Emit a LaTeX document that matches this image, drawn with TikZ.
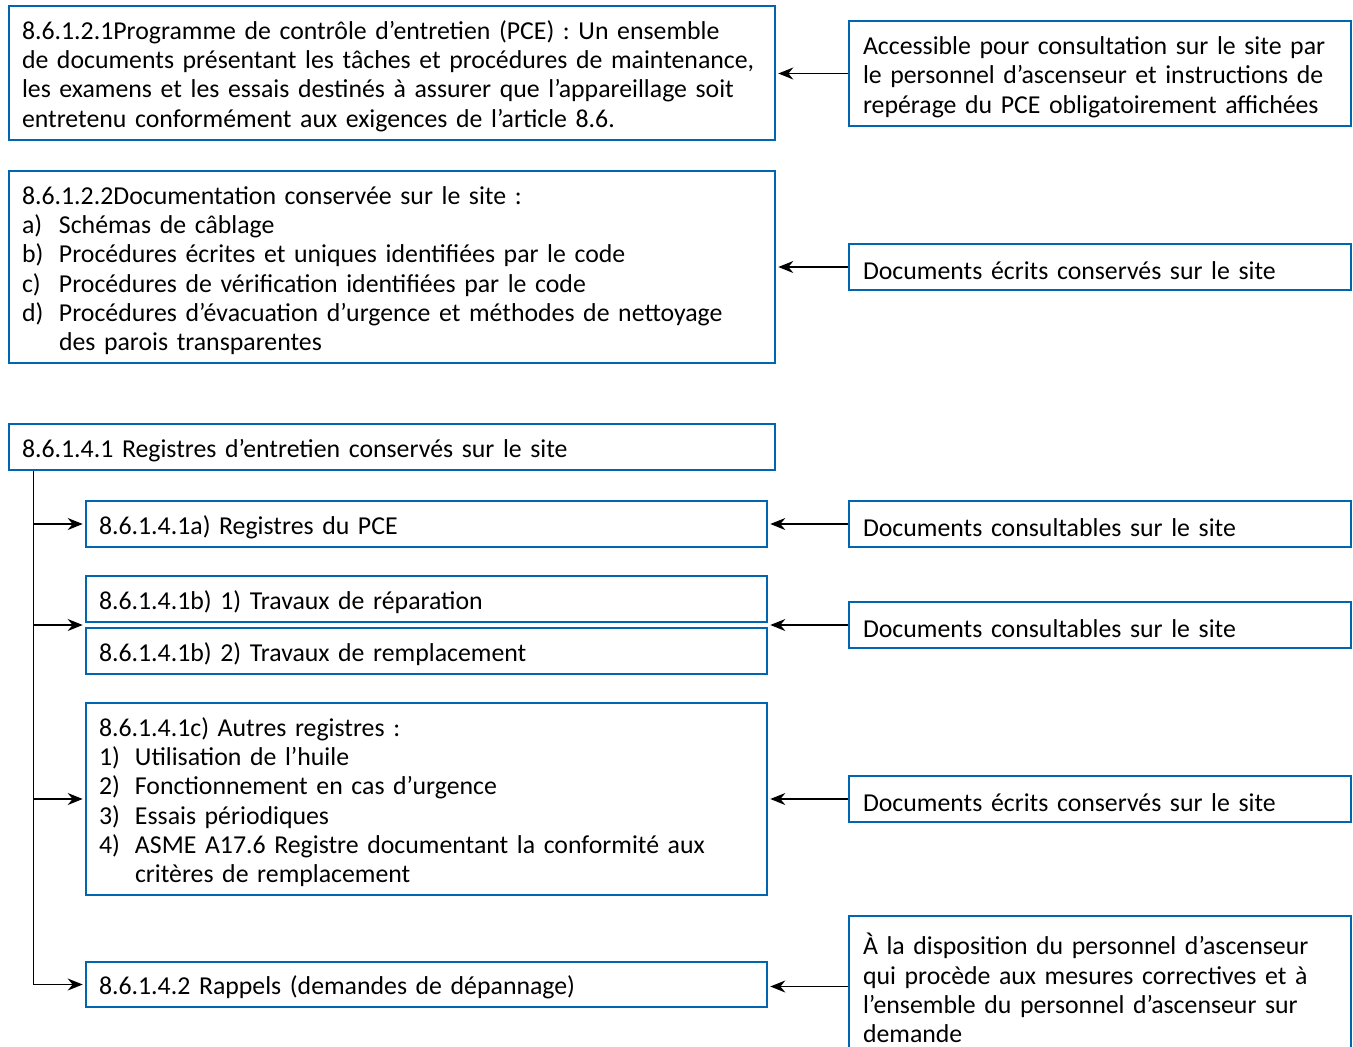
\documentclass[tikz,border=0pt]{standalone}
\usepackage{fontspec}
\setmainfont{Carlito}
\usetikzlibrary{arrows.meta}
\definecolor{boxblue}{RGB}{0,102,178}
\begin{document}
\begin{tikzpicture}[x=1pt,y=-1pt,
  box/.style={draw=boxblue, line width=2.6pt, rectangle, inner xsep=13pt, inner ysep=0pt,
    align=left, font=\fontsize{25.8}{29.3}\selectfont,
    execute at begin node={\rule{0pt}{25pt}}},
  wide/.style={box, minimum width=766pt, text width=740pt},
  sub/.style={box, minimum width=681pt, text width=655pt},
  side/.style={box, inner xsep=14pt, minimum width=502pt, text width=474pt},
  arr/.style={line width=1.5pt, -{Stealth[length=15pt,width=12pt]}, shorten >=2pt},
  trunkline/.style={line width=1.5pt}]
\useasboundingbox (0,0) rectangle (1353,1047);
\clip (0,0) rectangle (1353,1047);

\node[wide, minimum height=134pt] (b1) at (392,73)
 {8.6.1.2.1Programme de contrôle d’entretien (PCE) : Un ensemble\\
  de documents présentant les tâches et procédures de maintenance,\\
  les examens et les essais destinés à assurer que l’appareillage soit\\
  entretenu conformément aux exigences de l’article 8.6.};
\node[side, minimum height=105pt] (r1) at (1100,73.5)
 {Accessible pour consultation sur le site par\\
  le personnel d’ascenseur et instructions de\\
  repérage du PCE obligatoirement affichées};

\node[wide, minimum height=192pt] (b2) at (392,267)
 {8.6.1.2.2Documentation conservée sur le site :\\
  \makebox[37pt][l]{a)}Schémas de câblage\\
  \makebox[37pt][l]{b)}Procédures écrites et uniques identifiées par le code\\
  \makebox[37pt][l]{c)}Procédures de vérification identifiées par le code\\
  \makebox[37pt][l]{d)}Procédures d’évacuation d’urgence et méthodes de nettoyage\\
  \hspace*{37pt}des parois transparentes};
\node[side, minimum height=46pt] (r2) at (1100,267)
 {Documents écrits conservés sur le site};

\node[wide, minimum height=46pt] (b3) at (392,447)
 {8.6.1.4.1 Registres d’entretien conservés sur le site};

\node[sub, minimum height=46pt] (ba) at (426.5,524)
 {8.6.1.4.1a) Registres du PCE};
\node[side, minimum height=46pt] (ra) at (1100,524)
 {Documents consultables sur le site};

\node[sub, minimum height=46pt] (bb1) at (426.5,599)
 {8.6.1.4.1b) 1) Travaux de réparation};
\node[sub, minimum height=46pt] (bb2) at (426.5,651)
 {8.6.1.4.1b) 2) Travaux de remplacement};
\node[side, minimum height=46pt] (rb) at (1100,625)
 {Documents consultables sur le site};

\node[sub, minimum height=192pt] (bc) at (426.5,799)
 {8.6.1.4.1c) Autres registres :\\
  \makebox[36pt][l]{1)}Utilisation de l’huile\\
  \makebox[36pt][l]{2)}Fonctionnement en cas d’urgence\\
  \makebox[36pt][l]{3)}Essais périodiques\\
  \makebox[36pt][l]{4)}ASME A17.6 Registre documentant la conformité aux\\
  \hspace*{36pt}critères de remplacement};
\node[side, minimum height=46pt] (rc) at (1100,799)
 {Documents écrits conservés sur le site};

\node[sub, minimum height=45pt] (bd) at (426.5,984.5)
 {8.6.1.4.2 Rappels (demandes de dépannage)};
\node[side, minimum height=141pt] (rd) at (1100,986.5)
 {À la disposition du personnel d’ascenseur\\
  qui procède aux mesures correctives et à\\
  l’ensemble du personnel d’ascenseur sur\\
  demande};

% right-hand arrows
\draw[arr] (r1.west) -- (r1.west -| b1.east);
\draw[arr] (r2.west) -- (r2.west -| b2.east);
\draw[arr] (ra.west) -- (ra.west -| ba.east);
\draw[arr] (rb.west) -- (rb.west -| bb1.east);
\draw[arr] (rc.west) -- (rc.west -| bc.east);
\draw[arr] (rd.west) -- (rd.west -| bd.east);

% trunk on the left
\coordinate (trunk) at (b3.south west);
\coordinate (t0) at ([xshift=26pt]trunk);
\draw[trunkline] (t0) -- (t0 |- bd.west);
\draw[arr] (t0 |- ba.west) -- (ba.west);
\draw[arr] (t0 |- rb.west) -- (rb.west -| bb1.west);
\draw[arr] (t0 |- bc.west) -- (bc.west);
\draw[arr] (t0 |- bd.west) -- (bd.west);
\end{tikzpicture}
\end{document}
